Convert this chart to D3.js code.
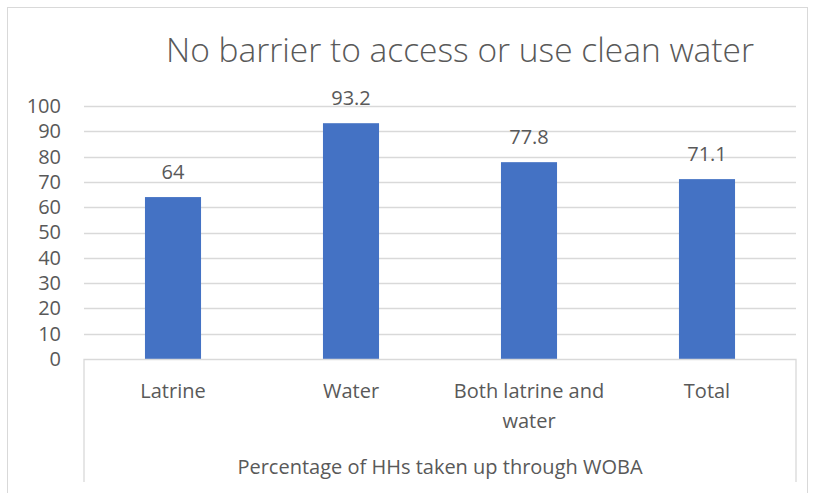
<!DOCTYPE html>
<html lang="en">
<head>
<meta charset="UTF-8">
<script src="https://d3js.org/d3.v7.min.js"></script>
<title>No barrier to access or use clean water</title>
<style>
  body { margin: 0; background: #fff; }
  text { font-family: "Open Sans", sans-serif; fill: #595959; }
</style>
</head>
<body>
<div id="viz"></div>
<script>
const categories = ["Latrine", "Water", "Both latrine and water", "Total"]
const catLines = [["Latrine"], ["Water"], ["Both latrine and", "water"], ["Total"]]
const values = [64, 93.2, 77.8, 71.1]
const yTicks = [0, 10, 20, 30, 40, 50, 60, 70, 80, 90, 100]
const title = "No barrier to access or use clean water"
const axisTitle = "Percentage of HHs taken up through WOBA"

const width = 813
const height = 493
const margin = {top: 106, left: 84, right: 17, bottom: 134}
const fs = 20

const svg = d3.select("#viz")
    .append("svg")
    .attr("width", width)
    .attr("height", height)

// chart border
svg.append("rect")
    .attr("x", 7.5).attr("y", 7.5)
    .attr("width", 800).attr("height", 500)
    .attr("fill", "none")
    .attr("stroke", "#d9d9d9")

const xScale = d3.scaleBand()
    .domain(categories)
    .range([margin.left, width - margin.right])
    .paddingInner(0.685)
    .paddingOuter(0.3425)

const yScale = d3.scaleLinear()
    .domain([0, 100])
    .range([height - margin.bottom, margin.top])

// gridlines
svg.append("g")
    .selectAll("line")
    .data(yTicks.slice(1))
    .enter()
    .append("line")
    .attr("x1", margin.left)
    .attr("x2", width - margin.right)
    .attr("y1", d => Math.round(yScale(d)) + 0.5)
    .attr("y2", d => Math.round(yScale(d)) + 0.5)
    .attr("stroke", "#d9d9d9")
    .attr("stroke-width", 1.3)

// y axis labels
const yAxis = svg.append("g")
    .attr("transform", `translate(${margin.left - 23},0)`)
    .call(d3.axisLeft(yScale).tickValues(yTicks).tickSize(0).tickPadding(0))
yAxis.select(".domain").remove()
yAxis.selectAll("text")
    .attr("font-size", fs)
    .attr("font-family", "Open Sans")
    .attr("fill", "#595959")

// bars
svg.selectAll(".bar")
    .data(values)
    .enter()
    .append("rect")
    .attr("class", "bar")
    .attr("x", (d, i) => xScale(categories[i]))
    .attr("y", d => yScale(d))
    .attr("width", xScale.bandwidth())
    .attr("height", d => yScale(0) - yScale(d))
    .attr("fill", "#4472c4")

// data labels
svg.selectAll(".lbl")
    .data(values)
    .enter()
    .append("text")
    .attr("class", "lbl")
    .attr("x", (d, i) => xScale(categories[i]) + xScale.bandwidth() / 2)
    .attr("y", d => yScale(d) - 18)
    .attr("text-anchor", "middle")
    .attr("font-size", fs)
    .attr("fill", "#404040")
    .text(d => d)

// category box
const y0 = Math.round(yScale(0)) + 0.5
const boxBottom = 482
svg.append("path")
    .attr("d", `M${margin.left},${boxBottom}V${y0}H${width - margin.right}V${boxBottom}`)
    .attr("fill", "none")
    .attr("stroke", "#d9d9d9")
    .attr("stroke-width", 1.3)

// category labels
const catG = svg.selectAll(".cat")
    .data(catLines)
    .enter()
    .append("text")
    .attr("class", "cat")
    .attr("text-anchor", "middle")
    .attr("font-size", fs)
    .attr("x", (d, i) => xScale(categories[i]) + xScale.bandwidth() / 2)
    .attr("y", 398)
catG.selectAll("tspan")
    .data(d => d)
    .enter()
    .append("tspan")
    .attr("x", function() { return d3.select(this.parentNode).attr("x") })
    .attr("dy", (d, i) => i === 0 ? 0 : 30)
    .text(d => d)

// axis title
svg.append("text")
    .attr("x", (margin.left + width - margin.right) / 2)
    .attr("y", 474)
    .attr("text-anchor", "middle")
    .attr("font-size", fs)
    .text(axisTitle)

// chart title
svg.append("text")
    .attr("x", 460)
    .attr("y", 62)
    .attr("text-anchor", "middle")
    .attr("font-size", 33.5)
    .attr("font-weight", 300)
    .text(title)
</script>
</body>
</html>
